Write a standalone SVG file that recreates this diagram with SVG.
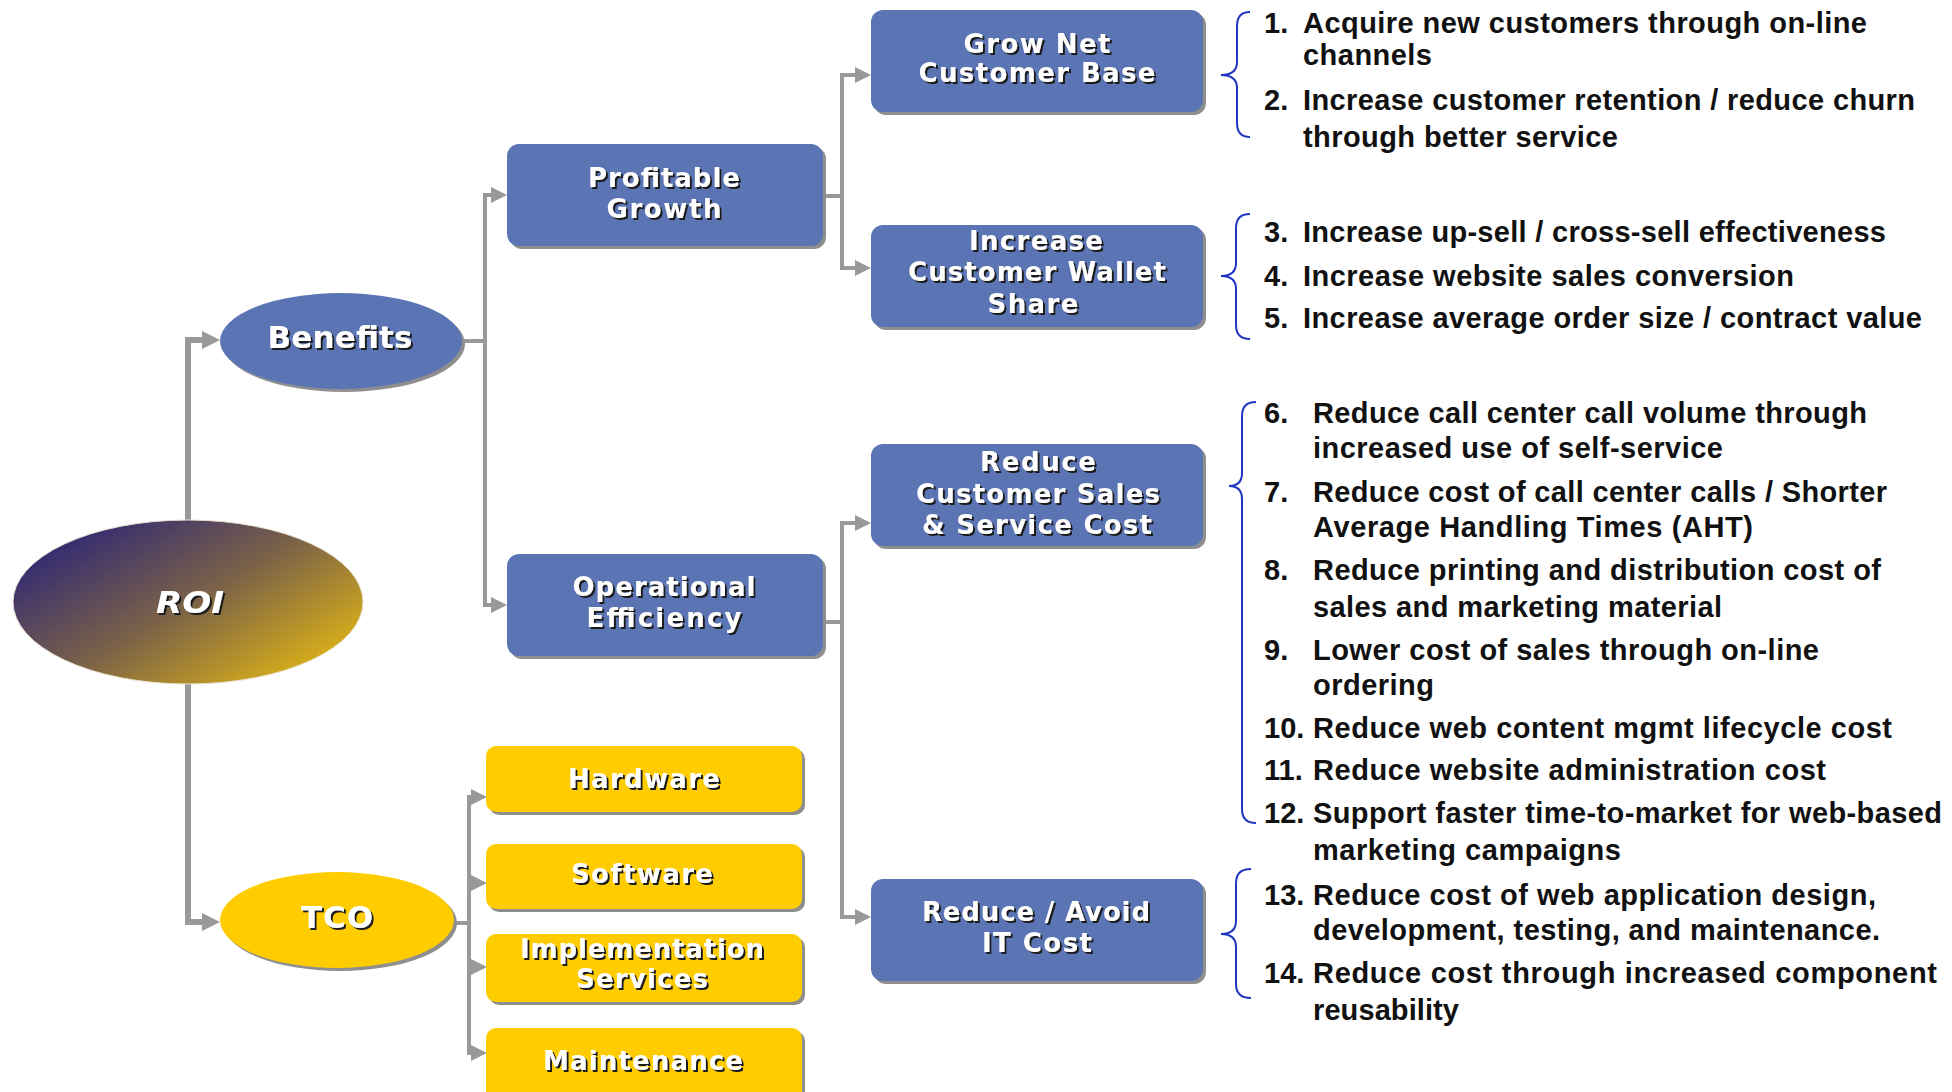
<svg xmlns="http://www.w3.org/2000/svg" width="1952" height="1092" viewBox="0 0 1952 1092">
<defs>
  <linearGradient id="roiGrad" x1="0" y1="0.1" x2="1" y2="0.9">
    <stop offset="0" stop-color="#241f7c"/>
    <stop offset="0.5" stop-color="#7a6148"/>
    <stop offset="1" stop-color="#ecbf0f"/>
  </linearGradient>
  <filter id="txtShadow" x="-10%" y="-20%" width="120%" height="150%">
    <feDropShadow dx="2" dy="2" stdDeviation="0.4" flood-color="#1a1a1a" flood-opacity="1"/>
  </filter>
  <marker id="arrow" markerUnits="userSpaceOnUse" markerWidth="16" markerHeight="16" refX="0" refY="8" orient="auto">
    <path d="M0,0 L16,8 L0,16 Z" fill="#999999"/>
  </marker>
  <marker id="arrowL" markerUnits="userSpaceOnUse" markerWidth="18" markerHeight="18" refX="0" refY="9" orient="auto">
    <path d="M0,0 L18,9 L0,18 Z" fill="#999999"/>
  </marker>
</defs>
<style>
  .conn { fill: none; stroke: #999999; stroke-width: 4; marker-end: url(#arrow); }
  .connL { fill: none; stroke: #999999; stroke-width: 6; marker-end: url(#arrowL); }
  .blue { fill: #5a74b4; }
  .yellow { fill: #ffcc00; }
  .shadow { fill: #8e8e8e; }
  .nodeText { font-family: "DejaVu Sans", Verdana, sans-serif; font-weight: bold; font-size: 26px; fill: #ffffff; text-anchor: middle; filter: url(#txtShadow); }
  .bigText { font-family: "DejaVu Sans", Verdana, sans-serif; font-weight: bold; font-size: 31px; fill: #ffffff; text-anchor: middle; filter: url(#txtShadow); }
  .list { font-family: "Liberation Sans", Arial, sans-serif; font-weight: bold; font-size: 29px; fill: #111111; }
  .brace { fill: none; stroke: #2035c0; stroke-width: 2; }
</style>
<rect x="0" y="0" width="1952" height="1092" fill="#ffffff"/>

<g id="connectors">
  <path class="connL" d="M188,522 V340 H202"/>
  <path class="connL" d="M188,684 V922 H202"/>
  <path class="conn" d="M462,341 H485 V195 H491"/>
  <path class="conn" d="M485,341 V605 H491"/>
  <path class="conn" d="M823,196 H842 V75 H855"/>
  <path class="conn" d="M842,196 V268 H855"/>
  <path class="conn" d="M823,622 H842 V523 H855"/>
  <path class="conn" d="M842,622 V917 H855"/>
  <path class="conn" d="M453,923 H469 V797 H471"/>
  <path class="conn" d="M469,923 V883 H471"/>
  <path class="conn" d="M469,923 V967 H471"/>
  <path class="conn" d="M469,923 V1053 H471"/>
</g>

<g id="roi">
  <ellipse cx="188" cy="602" rx="175" ry="82" fill="url(#roiGrad)" stroke="#e8e0d0" stroke-width="1"/>
  <text class="bigText" x="190" y="613" font-style="italic" textLength="68" lengthAdjust="spacingAndGlyphs">ROI</text>
</g>

<g id="benefits">
  <ellipse class="shadow" cx="344" cy="344" rx="121" ry="48"/>
  <ellipse class="blue" cx="341" cy="341" rx="121" ry="48"/>
  <text class="bigText" x="340" y="348" textLength="145" lengthAdjust="spacing">Benefits</text>
</g>

<g id="tco">
  <ellipse class="shadow" cx="340" cy="923" rx="117" ry="48"/>
  <ellipse class="yellow" cx="337" cy="920" rx="117" ry="48"/>
  <text class="bigText" x="337" y="928" textLength="72" lengthAdjust="spacing">TCO</text>
</g>

<g id="profitable-growth">
  <rect class="shadow" x="510" y="147" width="316" height="102" rx="12"/>
  <rect class="blue" x="507" y="144" width="316" height="102" rx="12"/>
  <text class="nodeText" x="664" y="187" textLength="152" lengthAdjust="spacing">Profitable</text>
  <text class="nodeText" x="664" y="218" textLength="115" lengthAdjust="spacing">Growth</text>
</g>

<g id="operational-efficiency">
  <rect class="shadow" x="510" y="557" width="316" height="102" rx="12"/>
  <rect class="blue" x="507" y="554" width="316" height="102" rx="12"/>
  <text class="nodeText" x="664" y="596" textLength="183" lengthAdjust="spacing">Operational</text>
  <text class="nodeText" x="664" y="627" textLength="155" lengthAdjust="spacing">Efficiency</text>
</g>

<g id="grow-net-customer-base">
  <rect class="shadow" x="874" y="13" width="332" height="102" rx="12"/>
  <rect class="blue" x="871" y="10" width="332" height="102" rx="12"/>
  <text class="nodeText" x="1037" y="53" textLength="147" lengthAdjust="spacing">Grow Net</text>
  <text class="nodeText" x="1037" y="82" textLength="237" lengthAdjust="spacing">Customer Base</text>
</g>

<g id="increase-customer-wallet-share">
  <rect class="shadow" x="874" y="228" width="332" height="102" rx="12"/>
  <rect class="blue" x="871" y="225" width="332" height="102" rx="12"/>
  <text class="nodeText" x="1036" y="250" textLength="134" lengthAdjust="spacing">Increase</text>
  <text class="nodeText" x="1037" y="281" textLength="258" lengthAdjust="spacing">Customer Wallet</text>
  <text class="nodeText" x="1033" y="313" textLength="91" lengthAdjust="spacing">Share</text>
</g>

<g id="reduce-customer-sales-service-cost">
  <rect class="shadow" x="874" y="447" width="332" height="102" rx="12"/>
  <rect class="blue" x="871" y="444" width="332" height="102" rx="12"/>
  <text class="nodeText" x="1038" y="471" textLength="116" lengthAdjust="spacing">Reduce</text>
  <text class="nodeText" x="1038" y="503" textLength="244" lengthAdjust="spacing">Customer Sales</text>
  <text class="nodeText" x="1037" y="534" textLength="230" lengthAdjust="spacing">&amp; Service Cost</text>
</g>

<g id="reduce-avoid-it-cost">
  <rect class="shadow" x="874" y="882" width="332" height="102" rx="12"/>
  <rect class="blue" x="871" y="879" width="332" height="102" rx="12"/>
  <text class="nodeText" x="1036" y="921" textLength="228" lengthAdjust="spacing">Reduce / Avoid</text>
  <text class="nodeText" x="1037" y="952" textLength="110" lengthAdjust="spacing">IT Cost</text>
</g>

<g id="hardware">
  <rect class="shadow" x="489" y="749" width="316" height="66" rx="10"/>
  <rect class="yellow" x="486" y="746" width="316" height="66" rx="10"/>
  <text class="nodeText" x="644" y="788" textLength="152" lengthAdjust="spacing">Hardware</text>
</g>

<g id="software">
  <rect class="shadow" x="489" y="847" width="316" height="65" rx="10"/>
  <rect class="yellow" x="486" y="844" width="316" height="65" rx="10"/>
  <text class="nodeText" x="642" y="883" textLength="142" lengthAdjust="spacing">Software</text>
</g>

<g id="implementation-services">
  <rect class="shadow" x="489" y="937" width="316" height="68" rx="10"/>
  <rect class="yellow" x="486" y="934" width="316" height="68" rx="10"/>
  <text class="nodeText" x="642" y="958" textLength="244" lengthAdjust="spacing">Implementation</text>
  <text class="nodeText" x="642" y="988" textLength="132" lengthAdjust="spacing">Services</text>
</g>

<g id="maintenance">
  <rect class="shadow" x="489" y="1031" width="316" height="80" rx="10"/>
  <rect class="yellow" x="486" y="1028" width="316" height="80" rx="10"/>
  <text class="nodeText" x="643" y="1070" textLength="200" lengthAdjust="spacing">Maintenance</text>
</g>

<g id="list-grow-net">
  <path class="brace" d="M1250,12 Q1237,12 1237,26 V62 Q1237,75 1221,75 Q1237,75 1237,88 V123 Q1237,137 1250,137"/>
  <text class="list" x="1264" y="33">1.</text>
  <text class="list" x="1303" y="33" textLength="564" lengthAdjust="spacing">Acquire new customers through on-line</text>
  <text class="list" x="1303" y="65" textLength="129" lengthAdjust="spacing">channels</text>
  <text class="list" x="1264" y="110">2.</text>
  <text class="list" x="1303" y="110" textLength="612" lengthAdjust="spacing">Increase customer retention / reduce churn</text>
  <text class="list" x="1303" y="147" textLength="315" lengthAdjust="spacing">through better service</text>
</g>

<g id="list-wallet-share">
  <path class="brace" d="M1250,214 Q1236,214 1236,228 V263 Q1236,276 1221,276 Q1236,276 1236,289 V325 Q1236,339 1250,339"/>
  <text class="list" x="1264" y="242">3.</text>
  <text class="list" x="1303" y="242" textLength="583" lengthAdjust="spacing">Increase up-sell / cross-sell effectiveness</text>
  <text class="list" x="1264" y="286">4.</text>
  <text class="list" x="1303" y="286" textLength="491" lengthAdjust="spacing">Increase website sales conversion</text>
  <text class="list" x="1264" y="328">5.</text>
  <text class="list" x="1303" y="328" textLength="619" lengthAdjust="spacing">Increase average order size / contract value</text>
</g>

<g id="list-sales-service-cost">
  <path class="brace" d="M1256,402 Q1242,402 1242,416 V473 Q1242,486 1229,486 Q1242,486 1242,499 V809 Q1242,823 1256,823"/>
  <text class="list" x="1264" y="423">6.</text>
  <text class="list" x="1313" y="423" textLength="554" lengthAdjust="spacing">Reduce call center call volume through</text>
  <text class="list" x="1313" y="458" textLength="410" lengthAdjust="spacing">increased use of self-service</text>
  <text class="list" x="1264" y="502">7.</text>
  <text class="list" x="1313" y="502" textLength="574" lengthAdjust="spacing">Reduce cost of call center calls / Shorter</text>
  <text class="list" x="1313" y="537" textLength="440" lengthAdjust="spacing">Average Handling Times (AHT)</text>
  <text class="list" x="1264" y="580">8.</text>
  <text class="list" x="1313" y="580" textLength="568" lengthAdjust="spacing">Reduce printing and distribution cost of</text>
  <text class="list" x="1313" y="617" textLength="409" lengthAdjust="spacing">sales and marketing material</text>
  <text class="list" x="1264" y="660">9.</text>
  <text class="list" x="1313" y="660" textLength="506" lengthAdjust="spacing">Lower cost of sales through on-line</text>
  <text class="list" x="1313" y="695" textLength="121" lengthAdjust="spacing">ordering</text>
  <text class="list" x="1264" y="738">10.</text>
  <text class="list" x="1313" y="738" textLength="579" lengthAdjust="spacing">Reduce web content mgmt lifecycle cost</text>
  <text class="list" x="1264" y="780">11.</text>
  <text class="list" x="1313" y="780" textLength="513" lengthAdjust="spacing">Reduce website administration cost</text>
  <text class="list" x="1264" y="823">12.</text>
  <text class="list" x="1313" y="823" textLength="629" lengthAdjust="spacing">Support faster time-to-market for web-based</text>
  <text class="list" x="1313" y="860" textLength="308" lengthAdjust="spacing">marketing campaigns</text>
</g>

<g id="list-it-cost">
  <path class="brace" d="M1251,869 Q1236,869 1236,883 V921 Q1236,934 1221,934 Q1236,934 1236,947 V984 Q1236,998 1251,998"/>
  <text class="list" x="1264" y="905">13.</text>
  <text class="list" x="1313" y="905" textLength="563" lengthAdjust="spacing">Reduce cost of web application design,</text>
  <text class="list" x="1313" y="940" textLength="567" lengthAdjust="spacing">development, testing, and maintenance.</text>
  <text class="list" x="1264" y="983">14.</text>
  <text class="list" x="1313" y="983" textLength="624" lengthAdjust="spacing">Reduce cost through increased component</text>
  <text class="list" x="1313" y="1020" textLength="146" lengthAdjust="spacing">reusability</text>
</g>
</svg>
